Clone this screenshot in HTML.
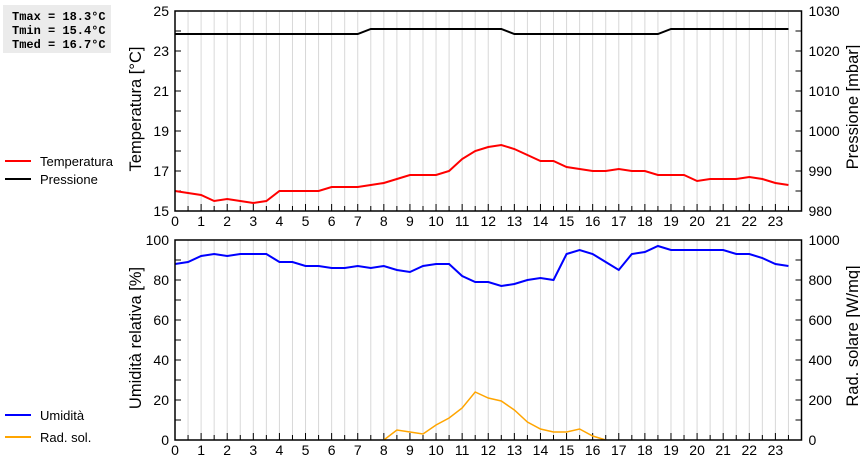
<!DOCTYPE html>
<html><head><meta charset="utf-8"><style>body{margin:0;background:#fff}svg{display:block}</style></head>
<body>
<svg id="s" width="860" height="460" xmlns="http://www.w3.org/2000/svg" font-family="Liberation Sans, sans-serif" font-size="14"></svg>
<script>
const s=document.getElementById('s');let h='';
const X0=175,W=626.5,xs=t=>X0+t*W/24;
const T=[16.0,15.9,15.8,15.5,15.6,15.5,15.4,15.5,16.0,16.0,16.0,16.0,16.2,16.2,16.2,16.3,16.4,16.6,16.8,16.8,16.8,17.0,17.6,18.0,18.2,18.3,18.1,17.8,17.5,17.5,17.2,17.1,17.0,17.0,17.1,17.0,17.0,16.8,16.8,16.8,16.5,16.6,16.6,16.6,16.7,16.6,16.4,16.3];
const Hm=[88,89,92,93,92,93,93,93,89,89,87,87,86,86,87,86,87,85,84,87,88,88,82,79,79,77,78,80,81,80,93,95,93,89,85,93,94,97,95,95,95,95,95,93,93,91,88,87,86];
const R={16:0,17:50,18:40,19:30,20:75,21:110,22:160,23:240,24:210,25:195,26:150,27:90,28:55,29:40,30:40,31:55,32:20,33:0};
function panel(top,lmin,lmax,lstep,rmin,rmax,rstep,ll,rl){
 const yb=top+200;
 for(let i=1;i<48;i++){const x=xs(i/2);h+=`<line x1="${x}" y1="${top}" x2="${x}" y2="${yb}" stroke="#d8d8d8"/>`;}
 for(let i=0;i<48;i++){const x=xs(i/2);h+=`<line x1="${x}" y1="${yb}" x2="${x}" y2="${yb-(i%2?5:7)}" stroke="#000"/>`;
  if(i%2==0)h+=`<text x="${x}" y="${yb+15}" text-anchor="middle">${i/2}</text>`;}
 const nl=(lmax-lmin)/lstep;
 for(let i=0;i<=nl;i++){const y=yb-i*200/nl;if(i>0&&i<nl){h+=`<line x1="${X0}" y1="${y}" x2="${X0+6}" y2="${y}" stroke="#000"/>`;}
  h+=`<text x="${X0-6}" y="${y+5}" text-anchor="end">${lmin+i*lstep}</text>`;
  if(i<nl){const y2=y-100/nl;h+=`<line x1="${X0}" y1="${y2}" x2="${X0+6}" y2="${y2}" stroke="#000"/>`;}}
 const nr=(rmax-rmin)/rstep;
 for(let i=0;i<=nr;i++){const y=yb-i*200/nr;if(i>0&&i<nr)h+=`<line x1="${X0+W-6}" y1="${y}" x2="${X0+W}" y2="${y}" stroke="#000"/>`;
  if(i<nr){const y2=y-100/nr;h+=`<line x1="${X0+W-6}" y1="${y2}" x2="${X0+W}" y2="${y2}" stroke="#000"/>`;}
  h+=`<text x="${X0+W+7}" y="${y+5}">${rmin+i*rstep}</text>`;}
 h+=`<text transform="translate(141,${top+98}) rotate(-90)" text-anchor="middle" font-size="16.5">${ll}</text>`;
 h+=`<text transform="translate(858,${top+96}) rotate(-90)" text-anchor="middle" font-size="16.5">${rl}</text>`;
}
panel(11,15,25,2,980,1030,10,'Temperatura [°C]','Pressione [mbar]');
panel(240,0,100,20,0,1000,200,'Umidità relativa [%]','Rad. solare [W/mq]');
const pline=[[0,34],[7,34],[7.5,29],[12.5,29],[13,34],[18.5,34],[19,29],[23.5,29]];
h+=`<polyline fill="none" stroke="#000" stroke-width="2" points="${pline.map(p=>xs(p[0])+','+p[1]).join(' ')}"/>`;
h+=`<polyline fill="none" stroke="#f00" stroke-width="2" points="${T.map((v,i)=>xs(i/2)+','+(211-(v-15)*20)).join(' ')}"/>`;
h+=`<polyline fill="none" stroke="#00f" stroke-width="2" points="${Hm.slice(0,48).map((v,i)=>xs(i/2)+','+(440-v*2)).join(' ')}"/>`;
h+=`<polyline fill="none" stroke="#ffa500" stroke-width="1.5" points="${Object.keys(R).map(k=>xs(k/2)+','+(440-R[k]*0.2)).join(' ')}"/>`;
h+=`<rect x="${X0}" y="11" width="${W}" height="200" fill="none" stroke="#000" stroke-width="1.5"/>`;
h+=`<rect x="${X0}" y="240" width="${W}" height="200" fill="none" stroke="#000" stroke-width="1.5"/>`;
h+=`<line x1="5" y1="161" x2="31" y2="161" stroke="#f00" stroke-width="2"/><text x="40" y="166" font-size="13">Temperatura</text>`;
h+=`<line x1="5" y1="179" x2="31" y2="179" stroke="#000" stroke-width="2"/><text x="40" y="184" font-size="13">Pressione</text>`;
h+=`<line x1="5" y1="415" x2="31" y2="415" stroke="#00f" stroke-width="2"/><text x="40" y="420" font-size="13">Umidità</text>`;
h+=`<line x1="5" y1="437" x2="31" y2="437" stroke="#ffa500" stroke-width="2"/><text x="40" y="442" font-size="13">Rad. sol.</text>`;
h+=`<rect x="3" y="5" width="108" height="48" fill="#ebebeb"/>`;
h+=`<g font-family="Liberation Mono, monospace" font-size="12" font-weight="bold"><text x="12" y="20">Tmax = 18.3°C</text><text x="12" y="34">Tmin = 15.4°C</text><text x="12" y="48">Tmed = 16.7°C</text></g>`;
s.innerHTML=h;
</script>
</body></html>
